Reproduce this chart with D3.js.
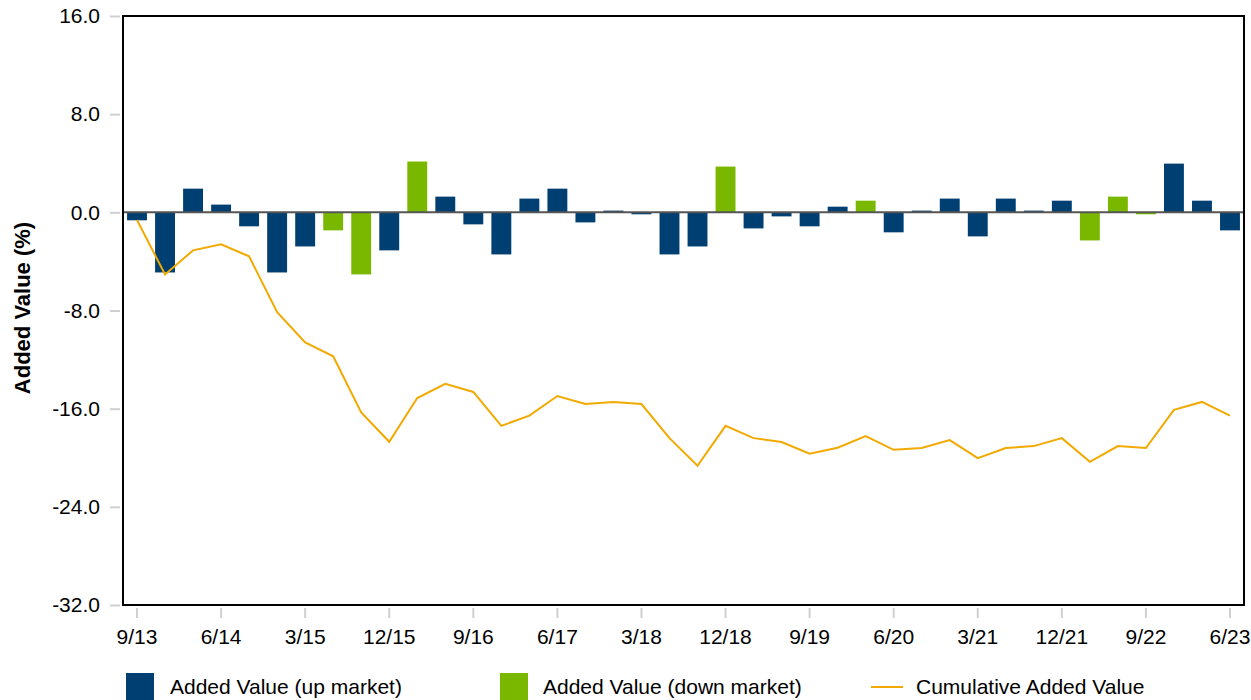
<!DOCTYPE html>
<html>
<head>
<meta charset="utf-8">
<script src="https://cdn.jsdelivr.net/npm/d3@7"></script>
<style>
  body { margin: 0; background: #fff; }
  svg text { font-family: Arial, "Liberation Sans", sans-serif; fill: #000; }
</style>
</head>
<body>
<div id="chart"></div>
<script>
// quarters 9/13 .. 6/23
var quarters = ["9/13","12/13","3/14","6/14","9/14","12/14","3/15","6/15","9/15","12/15",
                "3/16","6/16","9/16","12/16","3/17","6/17","9/17","12/17","3/18","6/18",
                "9/18","12/18","3/19","6/19","9/19","12/19","3/20","6/20","9/20","12/20",
                "3/21","6/21","9/21","12/21","3/22","6/22","9/22","12/22","3/23","6/23"];
var tickLabels = ["9/13","6/14","3/15","12/15","9/16","6/17","3/18","12/18","9/19","6/20","3/21","12/21","9/22","6/23"];

// added value per quarter, split by market regime (null = other regime)
var upMarket = [-0.65,-4.9,1.93,0.63,-1.14,-4.9,-2.78,null,null,-3.1,
                null,1.28,-0.98,-3.43,1.12,1.93,-0.82,0.14,-0.16,-3.43,
                -2.78,null,-1.31,-0.33,-1.14,0.46,null,-1.63,0.14,1.12,
                -1.96,1.12,0.14,0.95,null,null,null,3.97,0.95,-1.47];
var downMarket = [null,null,null,null,null,null,null,-1.47,-5.06,null,
                  4.14,null,null,null,null,null,null,null,null,null,
                  null,3.73,null,null,null,null,0.95,null,null,null,
                  null,null,null,null,-2.29,1.28,-0.16,null,null,null];
var cumulative = [-0.63,-5.06,-3.1,-2.61,-3.59,-8.14,-10.6,-11.73,-16.3,-18.7,
                  -15.13,-13.98,-14.64,-17.4,-16.57,-14.97,-15.62,-15.45,-15.62,-18.4,
                  -20.65,-17.4,-18.4,-18.72,-19.67,-19.18,-18.23,-19.35,-19.21,-18.56,
                  -20.03,-19.21,-19.05,-18.4,-20.33,-19.05,-19.21,-16.1,-15.45,-16.57];
var yTicks = [16, 8, 0, -8, -16, -24, -32];

var colUp = "#003f72", colDown = "#7ab800", colLine = "#f2a900";

var W = 1251, H = 700;
var m = {left: 123, top: 16, right: 7, bottom: 95};
var pw = W - m.left - m.right, ph = H - m.top - m.bottom;

var svg = d3.select("#chart").append("svg").attr("width", W).attr("height", H);

var x = d3.scaleBand().domain(quarters).range([m.left, m.left + pw]).paddingInner(0.29).paddingOuter(0.145);
var y = d3.scaleLinear().domain([-32, 16]).range([m.top + ph, m.top]);
var cx = function (q) { return x(q) + x.bandwidth() / 2; };

// y axis ticks + labels (plain hyphen for minus, like the original)
var yAxis = d3.axisLeft(y).tickValues(yTicks)
  .tickFormat(function (d) { return d.toFixed(1); })
  .tickSize(10).tickPadding(10);
var gy = svg.append("g").attr("transform", "translate(" + (m.left - 3) + ",0)").call(yAxis);
gy.select(".domain").remove();
gy.selectAll(".tick line").attr("stroke", "#d0d0d0").attr("stroke-width", 2);
gy.selectAll(".tick text").attr("font-size", "21px").attr("fill", "#000");

// x axis ticks + labels
var gx = svg.append("g");
gx.selectAll("line").data(tickLabels).enter().append("line")
  .attr("x1", function (d) { return cx(d); }).attr("x2", function (d) { return cx(d); })
  .attr("y1", m.top + ph + 3).attr("y2", m.top + ph + 13)
  .attr("stroke", "#d0d0d0").attr("stroke-width", 2);
gx.selectAll("text").data(tickLabels).enter().append("text")
  .attr("x", function (d) { return cx(d); }).attr("y", m.top + ph + 39)
  .attr("text-anchor", "middle").attr("font-size", "21px")
  .text(function (d) { return d; });

// bars
function bars(vals, color) {
  var data = quarters.map(function (q, i) { return {q: q, v: vals[i]}; }).filter(function (d) { return d.v !== null; });
  svg.append("g").selectAll("rect").data(data).enter().append("rect")
    .attr("x", function (d) { return x(d.q); })
    .attr("width", x.bandwidth())
    .attr("y", function (d) { return y(Math.max(0, d.v)); })
    .attr("height", function (d) { return Math.abs(y(d.v) - y(0)); })
    .attr("fill", color);
}
bars(upMarket, colUp);
bars(downMarket, colDown);

// zero line
svg.append("line").attr("x1", m.left).attr("x2", m.left + pw)
  .attr("y1", y(0)).attr("y2", y(0)).attr("stroke", "#555").attr("stroke-width", 2);

// cumulative line
var line = d3.line().x(function (d, i) { return cx(quarters[i]); }).y(function (d) { return y(d); });
svg.append("path").datum(cumulative).attr("d", line)
  .attr("fill", "none").attr("stroke", colLine).attr("stroke-width", 2);

// frame
svg.append("rect").attr("x", m.left).attr("y", m.top).attr("width", pw).attr("height", ph)
  .attr("fill", "none").attr("stroke", "#000").attr("stroke-width", 2);

// y label
svg.append("text").attr("transform", "translate(30,308) rotate(-90)")
  .attr("text-anchor", "middle").attr("font-size", "22px").attr("font-weight", "bold")
  .text("Added Value (%)");

// legend
var lg = svg.append("g");
lg.append("rect").attr("x", 126).attr("y", 673).attr("width", 28).attr("height", 28).attr("fill", colUp);
lg.append("text").attr("x", 170).attr("y", 694).attr("font-size", "21px").text("Added Value (up market)");
lg.append("rect").attr("x", 500).attr("y", 673).attr("width", 28).attr("height", 28).attr("fill", colDown);
lg.append("text").attr("x", 543).attr("y", 694).attr("font-size", "21px").text("Added Value (down market)");
lg.append("line").attr("x1", 871).attr("x2", 903).attr("y1", 687).attr("y2", 687).attr("stroke", colLine).attr("stroke-width", 2);
lg.append("text").attr("x", 916).attr("y", 694).attr("font-size", "21px").text("Cumulative Added Value");
</script>
</body>
</html>
